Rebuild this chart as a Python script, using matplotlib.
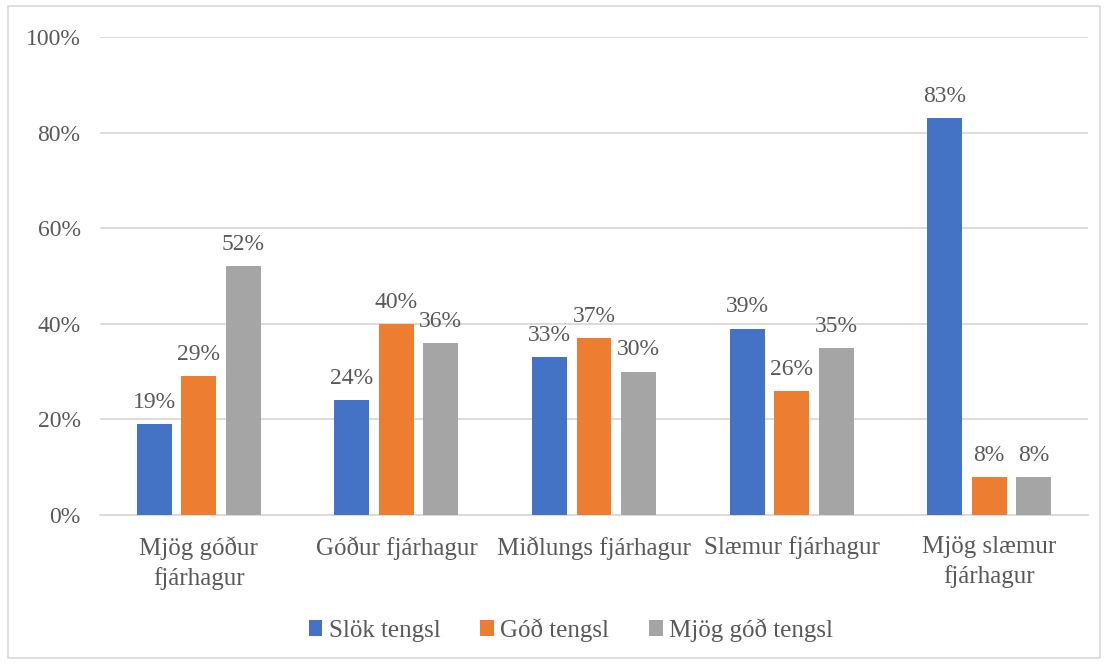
import matplotlib
matplotlib.use("Agg")
import matplotlib.pyplot as plt
import numpy as np
from matplotlib.patches import Rectangle
from matplotlib.ticker import PercentFormatter

categories = ["Mjög góður\nfjárhagur", "Góður fjárhagur", "Miðlungs fjárhagur",
              "Slæmur fjárhagur", "Mjög slæmur\nfjárhagur"]
series_names = ["Slök tengsl", "Góð tengsl", "Mjög góð tengsl"]
slok = [19, 24, 33, 39, 83]
god = [29, 40, 37, 26, 8]
mjog_god = [52, 36, 30, 35, 8]
y_ticks = [0, 20, 40, 60, 80, 100]

colors = ["#4472C4", "#ED7D31", "#A5A5A5"]
text_color = "#595959"
grid_color = "#D9D9D9"

plt.rcParams["font.family"] = ["Liberation Serif", "DejaVu Serif"]

fig = plt.figure(figsize=(11.08, 6.64), dpi=100)
fig.patches.append(Rectangle((8 / 1108, 6 / 664), 1092 / 1108, 652 / 664,
                             transform=fig.transFigure, fill=False,
                             edgecolor=grid_color, linewidth=1.2))

ax = fig.add_axes([100 / 1108, 1 - 515 / 664, 988 / 1108, 478 / 664])

x = np.arange(len(categories))
width = 0.177
step = 0.225
for i, (vals, name, col) in enumerate(zip([slok, god, mjog_god], series_names, colors)):
    pos = x + (i - 1) * step
    bars = ax.bar(pos, vals, width=width, color=col, label=name, zorder=3)
    for b, v in zip(bars, vals):
        ax.annotate(f"{v}%", (b.get_x() + b.get_width() / 2, v),
                    xytext=(0, 8), textcoords="offset points",
                    ha="center", va="bottom", fontsize=17, color=text_color)

ax.set_xlim(-0.5, len(categories) - 0.5)
ax.set_ylim(0, 100)
ax.set_yticks(y_ticks)
ax.yaxis.set_major_formatter(PercentFormatter(decimals=0))
ax.yaxis.grid(True, color=grid_color, linewidth=1.3, zorder=0)
ax.set_xticks(x)
ax.set_xticklabels(categories, linespacing=1.4, fontsize=18)
ax.tick_params(axis="both", length=0, labelcolor=text_color)
ax.tick_params(axis="y", labelsize=17, pad=14)
ax.tick_params(axis="x", pad=15)
for s in ["top", "right", "left"]:
    ax.spines[s].set_visible(False)
ax.spines["bottom"].set_color(grid_color)
ax.spines["bottom"].set_linewidth(1.3)

leg = fig.legend(loc="center", bbox_to_anchor=(571 / 1108, 1 - 630 / 664), ncol=3,
                 frameon=False, fontsize=18, handlelength=0.55, handleheight=0.55,
                 handletextpad=0.25, columnspacing=1.6)
for t in leg.get_texts():
    t.set_color(text_color)

fig.savefig("out.png", dpi=100)
